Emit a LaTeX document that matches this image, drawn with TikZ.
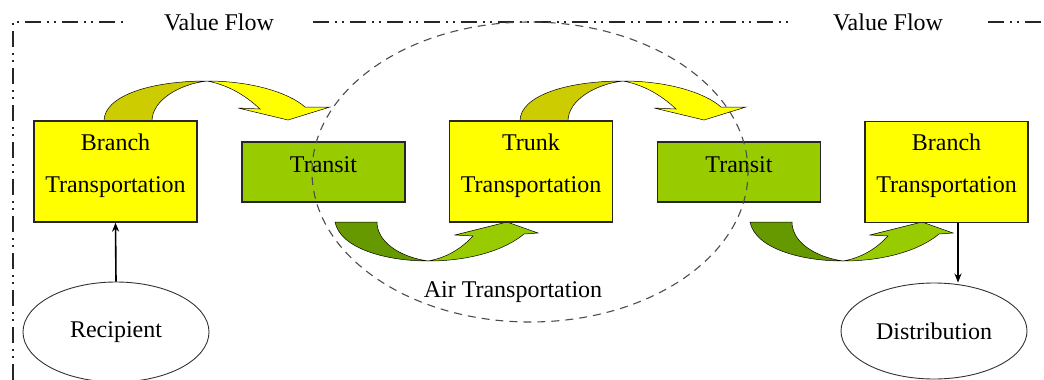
\documentclass[tikz,border=0pt]{standalone}
\usepackage{fontspec}
\setmainfont{Liberation Serif}
\usetikzlibrary{arrows.meta,shapes.geometric}
\definecolor{boxyellow}{HTML}{FFFF00}
\definecolor{boxgreen}{HTML}{99CC00}
\definecolor{flowyellowback}{HTML}{CCCC00}
\definecolor{flowgreenback}{HTML}{669900}
\begin{document}
\begin{tikzpicture}[x=1pt,y=-1pt,
  every node/.style={font=\fontsize{24}{42}\selectfont},
  yellowbox/.style={draw=black!85, line width=1.3pt, fill=boxyellow,
    minimum width=163pt, minimum height=101pt, inner sep=0pt},
  greenbox/.style={draw=black!85, line width=1.3pt, fill=boxgreen,
    minimum width=163pt, minimum height=60pt, inner sep=0pt},
  boxtext/.style={align=center, inner sep=0pt},
  endpoint/.style={ellipse, draw=black!80, line width=0.9pt,
    minimum width=186pt, inner sep=0pt},
  border/.style={line width=1.6pt, black!85,
    dash pattern=on 16pt off 6pt on 2pt off 5pt on 2pt off 6pt},
  airzone/.style={ellipse, draw=black!70, line width=1.1pt,
    dash pattern=on 8pt off 6pt, minimum width=436pt, minimum height=300pt,
    inner sep=0pt},
  conn/.style={line width=1.6pt, -{Stealth[length=9pt,width=7pt]}},
  flowedge/.style={draw=black, line width=0.5pt},
  topflow/.pic={
    % back half of the arching arrow
    \filldraw[flowedge, fill=flowyellowback]
      (0,0) .. controls (0,-25) and (46,-40) .. (103,-40)
      .. controls (76,-37) and (48,-21) .. (48,0) -- cycle;
    % front half with the arrow head
    \filldraw[flowedge, fill=boxyellow]
      (103,-40) .. controls (146,-40) and (184,-29) .. (201,-14)
      -- (226,-14) -- (184,-1) -- (134,-13) -- (156,-12)
      .. controls (141,-26) and (124,-36) .. (103,-40) -- cycle;
  },
  bottomflow/.pic={
    \filldraw[flowedge, fill=flowgreenback]
      (0,0) .. controls (5,26) and (50,39) .. (93,39)
      .. controls (65,35) and (42,20) .. (42,0) -- cycle;
    \filldraw[flowedge, fill=boxgreen]
      (93,39) .. controls (135,39) and (170,28) .. (189,12)
      -- (203,11) -- (172,0) -- (120,13) -- (138,14)
      .. controls (125,28) and (110,36) .. (93,39) -- cycle;
  }
]
\useasboundingbox (0,0) rectangle (1044,380);

% value-flow frame
\draw[border] (13,380) -- (13,22) -- (125,22);
\draw[border] (313,22) -- (793,22);
\draw[border] (988,22) -- (1044,22);
\node (vf1) at (219,22) {Value Flow};
\node (vf2) at (888,22) {Value Flow};

% curved flow arrows
\pic at (104,121) {topflow};
\pic at (520,121) {topflow};
\pic at (335,222) {bottomflow};
\pic at (750,222) {bottomflow};

% transport stages
\node[yellowbox] (b1) at (115.5,171.5) {};
\node[greenbox]  (t1) at (323.5,172) {};
\node[yellowbox] (tr) at (531,171.5) {};
\node[greenbox]  (t2) at (739,172) {};
\node[yellowbox] (b3) at (946.5,172) {};

\node[boxtext] (b1t) at ([yshift=6pt]b1.center) {Branch\\Transportation};
\node[boxtext] (t1t) at ([yshift=7pt]t1.center) {Transit};
\node[boxtext] (trt) at ([yshift=6pt]tr.center) {Trunk\\Transportation};
\node[boxtext] (t2t) at ([yshift=7pt]t2.center) {Transit};
\node[boxtext] (b3t) at ([yshift=6pt]b3.center) {Branch\\Transportation};

% end points
\node[endpoint, minimum height=100pt] (rec) at (116,332) {Recipient};
\node[endpoint, minimum height=96pt] (dist) at (934,331) {Distribution};

\draw[conn] (rec.north) -- (b1.south);
\draw[conn] ([xshift=11.5pt]b3.south) -- ([xshift=11.5pt]b3.south |- dist.north);

% air transportation zone
\node[airzone] (air) at (530,172) {};
\node (airt) at (513,292) {Air Transportation};
\end{tikzpicture}
\end{document}
